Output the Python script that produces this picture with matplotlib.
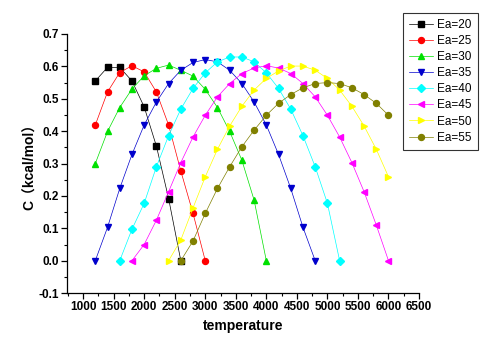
import matplotlib
matplotlib.use('Agg')
from matplotlib import pyplot as plt
from matplotlib.ticker import MultipleLocator

plt.rcParams['font.family'] = ['Liberation Sans', 'Noto Sans CJK SC', 'DejaVu Sans']

labels = ['Ea=20', 'Ea=25', 'Ea=30', 'Ea=35', 'Ea=40', 'Ea=45', 'Ea=50', 'Ea=55']

t20 = [1200, 1400, 1600, 1800, 2000, 2200, 2400, 2600]
c20 = [0.555, 0.597, 0.597, 0.555, 0.475, 0.354, 0.192, 0.0]

t25 = [1200, 1400, 1600, 1800, 2000, 2200, 2400, 2600, 2800, 3000]
c25 = [0.419, 0.521, 0.581, 0.602, 0.583, 0.521, 0.419, 0.277, 0.146, 0.0]

t30 = [1200, 1400, 1600, 1800, 2000, 2200, 2400, 2600, 2800, 3000, 3200,
       3400, 3600, 3800, 4000]
c30 = [0.300, 0.399, 0.473, 0.530, 0.571, 0.594, 0.604, 0.588, 0.570, 0.529,
       0.473, 0.399, 0.310, 0.187, 0.0]

t35 = [1200, 1400, 1600, 1800, 2000, 2200, 2400, 2600, 2800, 3000, 3200,
       3400, 3600, 3800, 4000, 4200, 4400, 4600, 4800]
c35 = [0.0, 0.103, 0.223, 0.328, 0.419, 0.490, 0.547, 0.588, 0.612, 0.621,
       0.614, 0.588, 0.547, 0.490, 0.419, 0.328, 0.223, 0.103, 0.0]

t40 = [1600, 1800, 2000, 2200, 2400, 2600, 2800, 3000, 3200, 3400, 3600,
       3800, 4000, 4200, 4400, 4600, 4800, 5000, 5200]
c40 = [0.0, 0.097, 0.177, 0.290, 0.386, 0.468, 0.532, 0.580, 0.614, 0.629,
       0.629, 0.614, 0.580, 0.532, 0.468, 0.386, 0.290, 0.177, 0.0]

t45 = [1800, 2000, 2200, 2400, 2600, 2800, 3000, 3200, 3400, 3600, 3800,
       4000, 4200, 4400, 4600, 4800, 5000, 5200, 5400, 5600, 5800, 6000]
c45 = [0.0, 0.050, 0.125, 0.213, 0.303, 0.382, 0.449, 0.506, 0.547, 0.578,
       0.595, 0.602, 0.595, 0.578, 0.547, 0.506, 0.449, 0.382, 0.303, 0.213,
       0.110, 0.0]

t50 = [2400, 2600, 2800, 3000, 3200, 3400, 3600, 3800, 4000, 4200, 4400,
       4600, 4800, 5000, 5200, 5400, 5600, 5800, 6000]
c50 = [0.0, 0.064, 0.163, 0.259, 0.344, 0.416, 0.477, 0.527, 0.563, 0.586,
       0.601, 0.601, 0.588, 0.563, 0.527, 0.477, 0.416, 0.344, 0.259]

t55 = [2600, 2800, 3000, 3200, 3400, 3600, 3800, 4000, 4200, 4400, 4600,
       4800, 5000, 5200, 5400, 5600, 5800, 6000]
c55 = [0.0, 0.061, 0.146, 0.223, 0.290, 0.352, 0.403, 0.449, 0.486, 0.513,
       0.534, 0.547, 0.550, 0.547, 0.534, 0.513, 0.486, 0.449]

temps = [t20, t25, t30, t35, t40, t45, t50, t55]
values = [c20, c25, c30, c35, c40, c45, c50, c55]
colors = ['#000000', '#FF0000', '#00E000', '#0000CC', '#00FFFF', '#FF00FF',
          '#FFFF00', '#808000']
markers = ['s', 'o', '^', 'v', 'D', '<', '>', 'o']
msizes = [3.8, 4.3, 4.6, 4.6, 3.6, 4.6, 4.6, 4.3]

fig = plt.figure(figsize=(4.8, 3.4), dpi=100)
ax = fig.add_axes([0.140, 0.138, 0.733, 0.762])

for t, c, col, m, ms, lab in zip(temps, values, colors, markers, msizes, labels):
    ax.plot(t, c, color=col, lw=0.5, alpha=1, marker=m, ms=ms, mec=col,
            mfc=col, label=lab)

ax.set_xlim(740, 6500)
ax.set_ylim(-0.1, 0.7)
ax.xaxis.set_minor_locator(MultipleLocator(250))
ax.yaxis.set_minor_locator(MultipleLocator(0.05))
ax.set_xticks(range(1000, 6501, 500))
ax.set_yticks([-0.1, 0.0, 0.1, 0.2, 0.3, 0.4, 0.5, 0.6, 0.7])
ax.set_yticklabels(['-0.1', '0.0', '0.1', '0.2', '0.3', '0.4', '0.5', '0.6', '0.7'])

for s in ['top', 'right']:
    ax.spines[s].set_visible(False)
for s in ['left', 'bottom']:
    ax.spines[s].set_linewidth(0.9)

ax.tick_params(which='major', direction='out', length=4, width=0.9,
               labelsize=8.5, pad=2)
ax.tick_params(which='minor', direction='out', length=2.5, width=0.8)
for lbl in ax.get_xticklabels() + ax.get_yticklabels():
    lbl.set_fontweight('bold')

ax.set_xlabel('temperature', fontsize=10, fontweight='bold', labelpad=4)
ax.set_ylabel('C（kcal/mol）', fontsize=10, fontweight='bold', labelpad=1)

leg = fig.legend(loc='upper left', bbox_to_anchor=(0.840, 0.962),
                 fontsize=8.5, frameon=True, fancybox=False,
                 edgecolor='black', handlelength=2.0, handletextpad=0.4,
                 labelspacing=0.35, borderpad=0.5, borderaxespad=0)
leg.get_frame().set_linewidth(0.8)

fig.savefig('out.png', dpi=100)
